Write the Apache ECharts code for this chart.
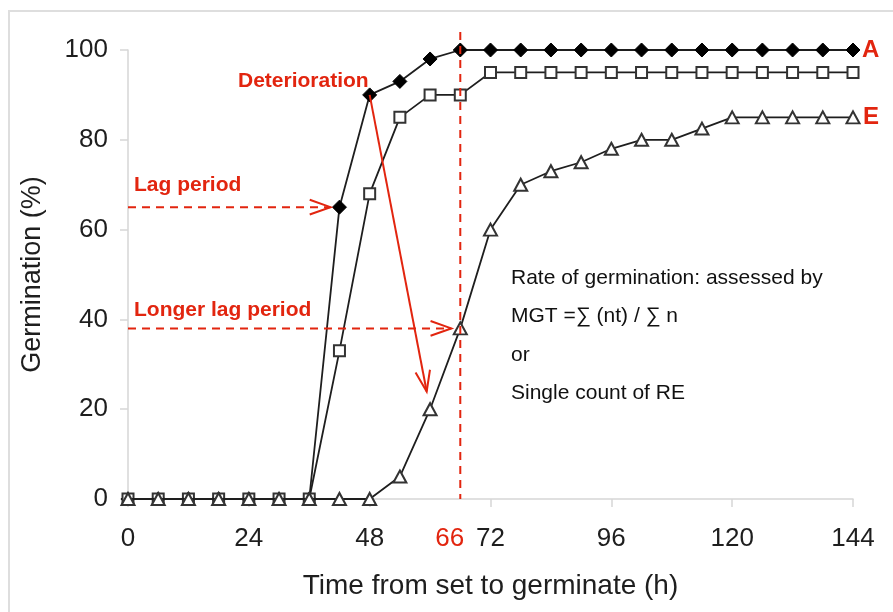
<!DOCTYPE html>
<html>
<head>
<meta charset="utf-8">
<script src="https://cdn.jsdelivr.net/npm/echarts@6/dist/echarts.min.js"></script>
<style>
html,body{margin:0;padding:0;background:#fff;}
#main{width:893px;height:612px;}
</style>
</head>
<body>
<div id="main"></div>
<script>
// hours after set to germinate
var hours = [0,6,12,18,24,30,36,42,48,54,60,66,72,78,84,90,96,102,108,114,120,126,132,138,144];
// germination (%) per lot
var lotA = [0,0,0,0,0,0,0,65,90,93,98,100,100,100,100,100,100,100,100,100,100,100,100,100,100];
var lotB = [0,0,0,0,0,0,0,33,68,85,90,90,95,95,95,95,95,95,95,95,95,95,95,95,95];
var lotE = [0,0,0,0,0,0,0,0,0,5,20,38,60,70,73,75,78,80,80,82.5,85,85,85,85,85];
var xTicks = [0,24,48,72,96,120,144];
var markHour = 66;
var noteLines = ['Rate of germination: assessed by', 'MGT =\u2211 (nt) / \u2211 n', 'or', 'Single count of RE'];

var red = '#e2250f';
var ink = '#1e1e1e';
var axisGrey = '#d6d6d6';
var font = '"Liberation Sans", Arial, Helvetica, sans-serif';

function pairs(vals) {
  return hours.map(function (h, i) { return [h, vals[i]]; });
}

var chart = echarts.init(document.getElementById('main'));

var option = {
  animation: false,
  backgroundColor: '#fff',
  grid: { left: 128, right: 40, top: 50, bottom: 113, outerBoundsMode: 'none' },
  xAxis: {
    type: 'value',
    min: 0, max: 144, interval: 24,
    name: 'Time from set to germinate (h)',
    nameLocation: 'middle',
    nameGap: 73,
    nameTextStyle: { color: ink, fontSize: 28, fontFamily: font },
    axisLine: { show: true, lineStyle: { color: axisGrey, width: 1.5 } },
    axisTick: { show: true, length: 8, lineStyle: { color: axisGrey, width: 1.5 } },
    axisLabel: {
      color: ink, fontSize: 26, fontFamily: font, margin: 27,
      formatter: function (v) { return xTicks.indexOf(v) >= 0 ? String(v) : ''; }
    },
    splitLine: { show: false }
  },
  yAxis: {
    type: 'value',
    min: 0, max: 100, interval: 20,
    name: 'Germination (%)',
    nameLocation: 'middle',
    nameGap: 82,
    nameTextStyle: { color: ink, fontSize: 27, fontFamily: font },
    axisLine: { show: true, lineStyle: { color: axisGrey, width: 1.5 } },
    axisTick: { show: true, length: 8, lineStyle: { color: axisGrey, width: 1.5 } },
    axisLabel: { color: ink, fontSize: 26, fontFamily: font, margin: 20 },
    splitLine: { show: false }
  },
  series: [
    {
      name: 'A', type: 'line', data: pairs(lotA),
      symbol: 'diamond', symbolSize: 14,
      lineStyle: { color: ink, width: 1.8 },
      itemStyle: { color: '#000', borderColor: '#000', borderWidth: 1 },
      z: 2
    },
    {
      name: 'B', type: 'line', data: pairs(lotB),
      symbol: 'rect', symbolSize: 11,
      lineStyle: { color: ink, width: 1.8 },
      itemStyle: { color: '#fff', borderColor: '#333', borderWidth: 2 },
      z: 3
    },
    {
      name: 'E', type: 'line', data: pairs(lotE),
      symbol: 'triangle', symbolSize: [13, 12],
      lineStyle: { color: ink, width: 1.8 },
      itemStyle: { color: '#fff', borderColor: '#333', borderWidth: 2 },
      z: 4
    }
  ]
};
chart.setOption(option);

// annotations, placed through the chart's own scales
function px(x, y) { return chart.convertToPixel({ gridIndex: 0 }, [x, y]); }

function arrow(from, to, gap, dashed) {
  var ang = Math.atan2(to[1] - from[1], to[0] - from[0]);
  var tip = [to[0] - gap * Math.cos(ang), to[1] - gap * Math.sin(ang)];
  var len = 22, spread = 0.34;
  var a1 = [tip[0] - len * Math.cos(ang - spread), tip[1] - len * Math.sin(ang - spread)];
  var a2 = [tip[0] - len * Math.cos(ang + spread), tip[1] - len * Math.sin(ang + spread)];
  return [
    { type: 'line', shape: { x1: from[0], y1: from[1], x2: tip[0], y2: tip[1] },
      style: { stroke: red, lineWidth: 2, lineDash: dashed ? [8, 6] : null }, z: 10 },
    { type: 'polyline', shape: { points: [a1, tip, a2] },
      style: { stroke: red, lineWidth: 2, fill: null }, z: 10 }
  ];
}

function label(text, x, y, opts) {
  opts = opts || {};
  return {
    type: 'text', x: x, y: y, z: 11,
    style: {
      text: text,
      font: (opts.bold ? 'bold ' : '') + (opts.size || 21) + 'px ' + font,
      fill: opts.color || red,
      align: opts.align || 'left',
      verticalAlign: 'middle'
    }
  };
}

var i42 = hours.indexOf(42), i48 = hours.indexOf(48), i60 = hours.indexOf(60), i66 = hours.indexOf(66);
var top66 = px(markHour, 104), bot66 = px(markHour, 0);

var els = [
  { type: 'rect', shape: { x: 9, y: 11, width: 1000, height: 1000 },
    style: { fill: null, stroke: '#dedede', lineWidth: 2 }, z: 0 },
  { type: 'line', shape: { x1: top66[0], y1: top66[1], x2: bot66[0], y2: bot66[1] },
    style: { stroke: red, lineWidth: 2, lineDash: [8, 6] }, z: 9 },
  label(String(markHour), bot66[0] + 4, 539, { size: 26, align: 'right' })
];
els = els.concat(arrow(px(0, lotA[i42]), px(42, lotA[i42]), 9, true));
els = els.concat(arrow(px(0, lotE[i66]), px(66, lotE[i66]), 9, true));
els = els.concat(arrow(px(48, lotA[i48]), px(60, lotE[i60]), 18, false));

els.push(label('Deterioration', 238, 81, { bold: true }));
els.push(label('Lag period', 134, 185, { bold: true }));
els.push(label('Longer lag period', 134, 310, { bold: true }));
els.push(label('A', 862, 50, { bold: true, size: 24 }));
els.push(label('E', 863, 117, { bold: true, size: 24 }));

var noteY = [278, 316, 355, 393];
noteLines.forEach(function (t, k) {
  els.push(label(t, 511, noteY[k], { color: '#111', size: 21 }));
});

chart.setOption({ graphic: { elements: els } });
window.onresize = chart.resize;
</script>
</body>
</html>
